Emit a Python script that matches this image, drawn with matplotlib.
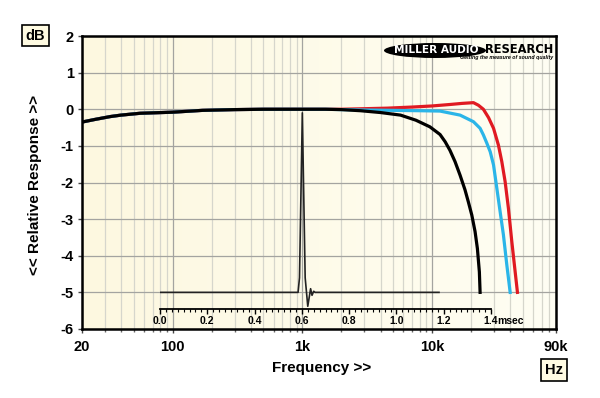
import numpy as np
import matplotlib
matplotlib.use('Agg')
from matplotlib import pyplot as plt
from matplotlib.patches import Ellipse
from matplotlib.ticker import FixedLocator, NullFormatter

plt.rcParams['font.family'] = ['Liberation Sans', 'DejaVu Sans']

# frequency response (Hz, dB)
black_f = [20, 25, 33, 40, 56, 100, 170, 300, 500, 700, 1000, 1500, 2000,
           2800, 4000, 5700, 7500, 9600, 11500, 12600, 13700, 15000, 16400, 17900, 19000,
           20200, 21400, 22300, 23100, 23400]
black_db = [-0.35, -0.28, -0.2, -0.16, -0.11, -0.08, -0.03, -0.01, 0, 0, 0, 0, -0.01,
            -0.04, -0.09, -0.16, -0.3, -0.48, -0.69, -0.89, -1.12, -1.43, -1.8, -2.2, -2.53,
            -2.89, -3.34, -3.8, -4.44, -5.0]

blue_f = [20, 25, 33, 40, 56, 100, 170, 300, 500, 700, 1000, 1500, 2000,
          3000, 5000, 8000, 11500, 16400, 20800, 23400, 24800, 26400, 28000, 29700, 31500,
          33400, 35400, 37600, 39900]
blue_db = [-0.35, -0.28, -0.2, -0.16, -0.11, -0.08, -0.03, -0.01, 0, 0, 0, 0, -0.01,
           -0.02, -0.03, -0.04, -0.05, -0.16, -0.34, -0.52, -0.7, -0.93, -1.16, -1.52, -2.16,
           -2.8, -3.43, -4.25, -5.0]

red_f = [20, 25, 33, 40, 56, 100, 170, 300, 500, 700, 1000, 1500, 2000,
         4500, 7000, 10000, 13700, 17000, 20800, 22700, 24800, 27200, 29700, 32400, 34400,
         36500, 38700, 41100, 43600, 45400]
red_db = [-0.35, -0.28, -0.2, -0.16, -0.11, -0.08, -0.03, -0.01, 0, 0, 0, 0, 0,
          0.03, 0.06, 0.09, 0.13, 0.16, 0.18, 0.11, 0.0, -0.23, -0.52, -0.98, -1.43,
          -1.98, -2.71, -3.62, -4.44, -5.0]

# impulse response (msec, drawn on the dB scale)
imp_t = [0.0, 0.584, 0.590, 0.597, 0.602, 0.607, 0.614, 0.625, 0.632, 0.637, 0.643, 0.650, 0.656, 1.18]
imp_v = [-5.0, -5.0, -4.6, -2.0, -0.1, -2.0, -4.6, -5.38, -5.1, -4.9, -5.08, -4.97, -5.0, -5.0]

x_ticks = [20, 100, 1000, 10000, 90000]
x_labels = ['20', '100', '1k', '10k', '90k']
y_ticks = [2, 1, 0, -1, -2, -3, -4, -5, -6]
t_ticks = [0.0, 0.2, 0.4, 0.6, 0.8, 1.0, 1.2, 1.4]

fig = plt.figure(figsize=(6, 3.98), dpi=100)
W, H = 600.0, 398.0

def box(x0, y0, x1, y1):
    # pixel box (from top-left) -> figure fraction rect
    return [x0 / W, 1 - y1 / H, (x1 - x0) / W, (y1 - y0) / H]

ax = fig.add_axes(box(82, 36, 556, 329))
ax.set_xscale('log')
ax.set_xlim(20, 90000)
ax.set_ylim(-6, 2)

# cream background, a touch warmer on the left
grad = np.linspace(0, 1, 256).reshape(1, -1)
bg = matplotlib.colors.LinearSegmentedColormap.from_list('bg', ['#fdf8e0', '#fffef3'])
ax.imshow(grad, cmap=bg, extent=[0, 1, 0, 1], transform=ax.transAxes, aspect='auto', zorder=0)

ax.xaxis.set_major_locator(FixedLocator(x_ticks))
ax.set_xticklabels(x_labels)
minors = [m * d for d in [10, 100, 1000, 10000] for m in range(2, 10) if 20 < m * d < 90000]
ax.xaxis.set_minor_locator(FixedLocator(minors))
ax.xaxis.set_minor_formatter(NullFormatter())
ax.set_yticks(y_ticks)
ax.set_yticklabels([str(v) for v in y_ticks])

ax.grid(which='major', color='#a4a4a0', lw=0.9, zorder=1)
ax.grid(which='minor', axis='x', color='#d6d6cc', lw=0.9, zorder=1)
ax.set_axisbelow(False)

ax.tick_params(axis='both', which='major', length=3, width=1, color='#444444',
               labelsize=10.5, pad=3)
ax.tick_params(axis='x', which='major', pad=5)
ax.tick_params(axis='x', which='minor', length=2, width=1, color='#666666')
for lab in ax.get_xticklabels() + ax.get_yticklabels():
    lab.set_fontweight('bold')
for s in ax.spines.values():
    s.set_linewidth(1.8)
    s.set_zorder(5)

ax.plot(red_f, red_db, color='#e01a22', lw=2.3, zorder=3, solid_joinstyle='round')
ax.plot(blue_f, blue_db, color='#2bb5e8', lw=2.3, zorder=3.1, solid_joinstyle='round')
ax.plot(black_f, black_db, color='black', lw=2.3, zorder=3.2, solid_joinstyle='round')

# impulse inset with its own time axis
at = fig.add_axes(box(160, 36, 491, 309))
at.patch.set_visible(False)
at.set_xlim(0, 1.4)
at.set_ylim(-5.454, 2)
for k in ['top', 'left', 'right']:
    at.spines[k].set_visible(False)
at.spines['bottom'].set_linewidth(1.3)
at.set_yticks([])
at.set_xticks(t_ticks)
at.set_xticklabels(['%.1f' % t for t in t_ticks])
at.xaxis.set_minor_locator(FixedLocator(np.arange(0, 1.401, 0.025)))
at.tick_params(axis='x', which='major', length=3.5, width=1, labelsize=7.5, pad=1.5)
at.tick_params(axis='x', which='minor', length=2, width=0.8)
for lab in at.get_xticklabels():
    lab.set_fontweight('bold')
at.plot(imp_t, imp_v, color='#222222', lw=1.2)
fig.text(497.5 / W, 1 - 321 / H, 'msec', fontsize=7.5, fontweight='bold', ha='left', va='center')

# labels
fig.text(35.5 / W, 1 - 35.5 / H, 'dB', fontsize=10.5, fontweight='bold', ha='center', va='center',
         bbox=dict(boxstyle='square,pad=0.25', fc='#fffbe2', ec='black', lw=1.2))
fig.text(554 / W, 1 - 370 / H, 'Hz', fontsize=10.5, fontweight='bold', ha='center', va='center',
         bbox=dict(boxstyle='square,pad=0.25', fc='#fffbe2', ec='black', lw=1.2))
fig.text(322 / W, 1 - 368 / H, 'Frequency >>', fontsize=11, fontweight='bold', ha='center', va='center')
fig.text(35.5 / W, 1 - 185 / H, '<< Relative Response >>', fontsize=11, fontweight='bold',
         ha='center', va='center', rotation=90)

# logo
fig.patches.append(Ellipse((435 / W, 1 - 50.5 / H), 102 / W, 15 / H, transform=fig.transFigure,
                           fc='black', ec='none', zorder=10))
fig.text(436 / W, 1 - 50 / H, 'MILLER AUDIO', color='white', fontsize=7.6, fontweight='heavy',
         ha='center', va='center', family='DejaVu Sans', zorder=11)
fig.text(485 / W, 1 - 49.5 / H, 'RESEARCH', color='black', fontsize=8.3, fontweight='heavy',
         ha='left', va='center', family='DejaVu Sans', zorder=11)
fig.text(553 / W, 1 - 57.5 / H, 'Getting the measure of sound quality', color='black', fontsize=3.8,
         fontweight='bold', style='italic', ha='right', va='center', zorder=11)

fig.savefig('out.png', dpi=100)
